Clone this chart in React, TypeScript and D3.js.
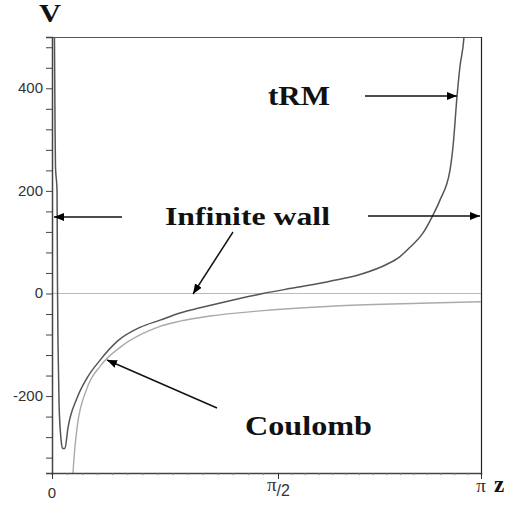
import React, { useEffect, useRef } from 'react';
import * as d3 from 'd3';

// tRM potential (dark curve): z in radians, V
const trmZ = [0.014, 0.017, 0.021, 0.024, 0.035, 0.038, 0.042, 0.049, 0.063, 0.073, 0.090, 0.111, 0.174, 0.243, 0.334, 0.459, 0.612, 0.751, 0.890, 1.029, 1.237, 1.466, 1.718, 1.973, 2.205, 2.414, 2.515, 2.592, 2.693, 2.762, 2.824, 2.902, 2.925, 2.956, 2.979, 3.010, 3.020];
const trmV = [560, 500, 330, 250, 200, 20, -100, -215, -285, -302, -302, -262, -204, -165, -130, -92, -66, -52, -38, -28, -14, 0, 12, 24, 37, 57, 72, 90, 118, 149, 182, 241, 286, 384, 443, 500, 540];

// Coulomb potential (light curve)
const coulZ = [0.140, 0.146, 0.174, 0.243, 0.334, 0.473, 0.632, 0.751, 0.890, 1.098, 1.446, 2.051, 2.670, 3.142];
const coulV = [-380, -350, -262, -185, -142, -105, -78, -64, -54, -44, -34, -24, -19, -16];

const yTickValues = d3.range(-320, 481, 40);
const yLabelValues = [-200, 0, 200, 400];
const xMinorTicks = d3.range(0, 31).map(k => (k * Math.PI) / 30);

const App: React.FC = () => {
  const svgRef = useRef<SVGSVGElement>(null);

  useEffect(() => {
    if (!svgRef.current) return;
    const svg = d3.select(svgRef.current);
    svg.selectAll('*').remove();

    const left = 52, right = 481, top = 37, bottom = 473;

    const x = d3.scaleLinear()
      .domain([0, Math.PI / 2, Math.PI])
      .range([left, 278, right]);
    const y = d3.scaleLinear().domain([-350, 500]).range([bottom, top]);

    const defs = svg.append('defs');
    defs.append('clipPath').attr('id', 'plotclip')
      .append('rect')
      .attr('x', left + 1).attr('y', top).attr('width', right - left - 1).attr('height', bottom - top);
    defs.append('marker')
      .attr('id', 'arr')
      .attr('viewBox', '0 0 10 8')
      .attr('refX', 10).attr('refY', 4)
      .attr('markerWidth', 10).attr('markerHeight', 8)
      .attr('markerUnits', 'userSpaceOnUse')
      .attr('orient', 'auto')
      .append('path').attr('d', 'M0,0 L10,4 L0,8 Z').attr('fill', '#000');

    // frame top & right
    svg.append('line').attr('x1', left).attr('x2', right).attr('y1', top + 0.5).attr('y2', top + 0.5)
      .attr('stroke', '#555').attr('stroke-width', 1.2);
    svg.append('line').attr('x1', right + 0.5).attr('x2', right + 0.5).attr('y1', top).attr('y2', bottom)
      .attr('stroke', '#222').attr('stroke-width', 1.2);

    // zero line
    svg.append('line').attr('x1', left).attr('x2', right).attr('y1', y(0)).attr('y2', y(0))
      .attr('stroke', '#bbb').attr('stroke-width', 1);

    const plot = svg.append('g').attr('clip-path', 'url(#plotclip)');
    const line = d3.line<number>().curve(d3.curveMonotoneX);

    plot.append('path')
      .attr('d', line.x(i => x(coulZ[i])).y(i => y(coulV[i]))(d3.range(coulZ.length)) || '')
      .attr('fill', 'none').attr('stroke', '#aaa').attr('stroke-width', 1.4);
    plot.append('path')
      .attr('d', line.x(i => x(trmZ[i])).y(i => y(trmV[i]))(d3.range(trmZ.length)) || '')
      .attr('fill', 'none').attr('stroke', '#555').attr('stroke-width', 1.5);

    // y axis
    const yAxis = svg.append('g').attr('transform', `translate(${left},0)`)
      .call(d3.axisLeft(y).tickValues(yTickValues).tickSize(6).tickFormat(() => ''));
    yAxis.select('.domain').attr('stroke', '#444').attr('stroke-width', 1.5);
    yAxis.selectAll('.tick line').attr('stroke', '#444');
    svg.append('g').selectAll('text').data(yLabelValues).enter().append('text')
      .attr('x', left - 9).attr('y', d => y(d) + 5)
      .attr('text-anchor', 'end')
      .attr('font-family', 'Liberation Sans, Arial, sans-serif')
      .attr('font-size', 15).attr('fill', '#333')
      .text(d => String(d));

    // x axis
    const xAxis = svg.append('g').attr('transform', `translate(0,${bottom})`)
      .call(d3.axisBottom(x).tickValues(xMinorTicks).tickSize(2).tickFormat(() => ''));
    xAxis.select('.domain').attr('stroke', '#444').attr('stroke-width', 1.5);
    xAxis.selectAll('.tick line').attr('stroke', '#777');
    const xMajor = svg.append('g').attr('transform', `translate(0,${bottom})`)
      .call(d3.axisBottom(x).tickValues([0, Math.PI / 2, Math.PI]).tickSize(6).tickFormat(() => ''));
    xMajor.select('.domain').remove();
    xMajor.selectAll('.tick line').attr('stroke', '#333');

    svg.append('text').attr('x', x(0)).attr('y', 498).attr('text-anchor', 'middle')
      .attr('font-family', 'Liberation Sans, Arial, sans-serif').attr('font-size', 15).attr('fill', '#333')
      .text('0');
    const half = svg.append('text').attr('x', x(Math.PI / 2) - 11).attr('y', 491)
      .attr('font-family', 'Liberation Serif, Times New Roman, serif').attr('font-size', 19).attr('fill', '#333');
    half.append('tspan').text('π');
    half.append('tspan').attr('font-family', 'Liberation Sans, Arial, sans-serif').attr('font-size', 16)
      .attr('dy', 5).text('/2');
    svg.append('text').attr('x', x(Math.PI)).attr('y', 492).attr('text-anchor', 'middle')
      .attr('font-family', 'Liberation Serif, Times New Roman, serif').attr('font-size', 19).attr('fill', '#333')
      .text('π');

    // axis titles and annotations
    const bold = (t: string, px: number, py: number, size: number, len?: number) => {
      const el = svg.append('text').attr('x', px).attr('y', py)
        .attr('font-family', 'Liberation Serif, Times New Roman, serif')
        .attr('font-weight', 'bold').attr('font-size', size).attr('fill', '#111').text(t);
      if (len) el.attr('textLength', len).attr('lengthAdjust', 'spacingAndGlyphs');
      return el;
    };
    bold('V', 39, 22, 26, 22);
    bold('z', 494, 492, 23);
    bold('tRM', 268, 105, 27, 62);
    bold('Infinite wall', 165, 225, 26, 165);
    bold('Coulomb', 245, 435, 27, 127);

    // arrows
    const arrow = (x1: number, y1: number, x2: number, y2: number) => {
      svg.append('line').attr('x1', x1).attr('y1', y1).attr('x2', x2).attr('y2', y2)
        .attr('stroke', '#111').attr('stroke-width', 1.4).attr('marker-end', 'url(#arr)');
    };
    arrow(365, 96, 457, 96);
    arrow(122, 217, 54, 217);
    arrow(368, 216, 480, 216);
    arrow(233, 232, 193, 294);
    arrow(217, 408, 107, 360);
  }, []);

  return (
    <svg
      ref={svgRef}
      width={506}
      height={506}
      style={{ position: 'absolute', left: 0, top: 0, background: '#fff' }}
    />
  );
};

export default App;
